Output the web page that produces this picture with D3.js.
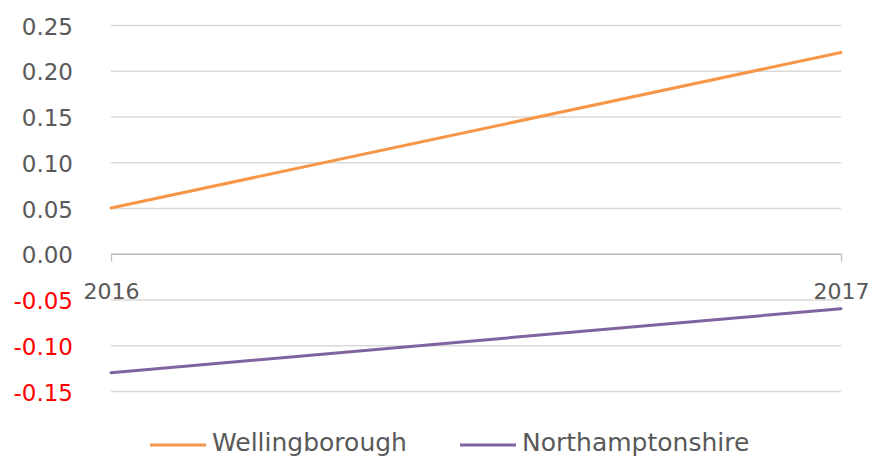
<!DOCTYPE html>
<html>
<head>
<meta charset="utf-8">
<script src="https://cdn.jsdelivr.net/npm/d3@7"></script>
<style>
  body { margin: 0; background: #fff; }
  svg { display: block; font-family: "DejaVu Sans", sans-serif; }
</style>
</head>
<body>
<div id="chart"></div>
<script>
// data
var years = ["2016", "2017"];
var wellingborough = [0.05, 0.22];
var northamptonshire = [-0.13, -0.06];
var yTicks = [-0.15, -0.10, -0.05, 0.00, 0.05, 0.10, 0.15, 0.20, 0.25];
var seriesNames = ["Wellingborough", "Northamptonshire"];

var w = 874, h = 456;
var colours = ["#F79646", "#8064A2"];

var svg = d3.select("#chart").append("svg")
    .attr("width", w)
    .attr("height", h);

var xScale = d3.scalePoint()
    .domain(years)
    .range([111, 841]);

var yScale = d3.scaleLinear()
    .domain([-0.15, 0.25])
    .range([391, 25]);

var fmt = d3.format(".2f");

// gridlines + y labels
var yAxis = d3.axisLeft(yScale)
    .tickValues(yTicks)
    .tickSize(-(841 - 111))
    .tickPadding(38)
    .tickFormat(function(d) { return fmt(d).replace("\u2212", "-"); });

var gy = svg.append("g")
    .attr("transform", "translate(111,0)")
    .call(yAxis)
    .attr("font-family", "DejaVu Sans");
gy.select(".domain").remove();
gy.selectAll(".tick line").attr("stroke", "#D9D9D9").attr("stroke-width", 1.3);
gy.selectAll(".tick text")
    .attr("font-size", 23)
    .attr("dy", "0.4em")
    .attr("fill", function(d) { return d < 0 ? "#FF0000" : "#595959"; });

// x axis sits on zero
var xAxis = d3.axisBottom(xScale).tickSize(8).tickSizeOuter(0);
var gx = svg.append("g")
    .attr("transform", "translate(0," + yScale(0) + ")")
    .call(xAxis)
    .attr("font-family", "DejaVu Sans");
gx.select(".domain").attr("stroke", "#BFBFBF").attr("stroke-width", 1.3);
gx.selectAll(".tick line").attr("stroke", "#BFBFBF").attr("stroke-width", 1.3);
gx.selectAll(".tick text")
    .attr("font-size", 22)
    .attr("y", 45)
    .attr("dy", 0)
    .attr("fill", "#595959");

// lines
var line = d3.line()
    .x(function(d, i) { return xScale(years[i]); })
    .y(function(d) { return yScale(d); });

[wellingborough, northamptonshire].forEach(function(s, i) {
    svg.append("path")
        .datum(s)
        .attr("d", line)
        .attr("fill", "none")
        .attr("stroke", colours[i])
        .attr("stroke-width", 3)
        .attr("stroke-linecap", "round");
});

// legend
var legendX = [150, 460];
var leg = svg.selectAll(".legend")
    .data(seriesNames)
    .enter().append("g")
    .attr("class", "legend")
    .attr("transform", function(d, i) { return "translate(" + legendX[i] + ",445)"; });

leg.append("line")
    .attr("x1", 0).attr("x2", 56)
    .attr("stroke", function(d, i) { return colours[i]; })
    .attr("stroke-width", 3);

leg.append("text")
    .attr("x", 62)
    .attr("y", 6)
    .attr("font-family", "DejaVu Sans")
    .attr("font-size", 25)
    .attr("fill", "#595959")
    .text(function(d) { return d; });
</script>
</body>
</html>
